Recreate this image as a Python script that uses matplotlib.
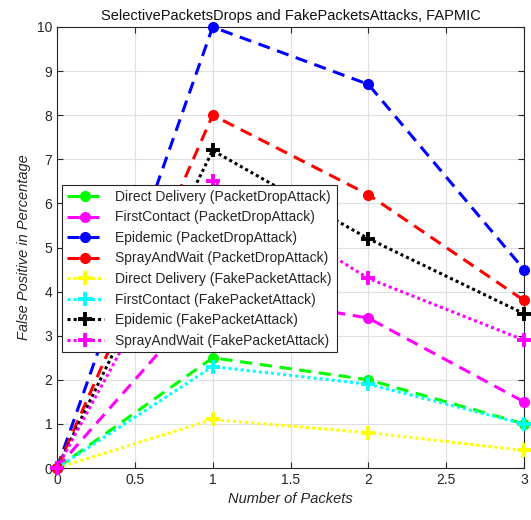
import matplotlib
matplotlib.use("Agg")
import matplotlib.pyplot as plt

plt.rcParams['font.family'] = ['Liberation Sans', 'DejaVu Sans']

packets = [0, 1, 2, 3]

dd_drop = [0, 2.5, 2.0, 1.0]
fc_drop = [0, 4.0, 3.4, 1.5]
ep_drop = [0, 10.0, 8.7, 4.5]
sw_drop = [0, 8.0, 6.2, 3.8]
dd_fake = [0, 1.1, 0.8, 0.4]
fc_fake = [0, 2.3, 1.9, 1.0]
ep_fake = [0, 7.2, 5.2, 3.5]
sw_fake = [0, 6.5, 4.3, 2.9]

labels = ["Direct Delivery (PacketDropAttack)", "FirstContact (PacketDropAttack)",
          "Epidemic (PacketDropAttack)", "SprayAndWait (PacketDropAttack)",
          "Direct Delivery (FakePacketAttack)", "FirstContact (FakePacketAttack)",
          "Epidemic (FakePacketAttack)", "SprayAndWait (FakePacketAttack)"]

fig = plt.figure(figsize=(5.31, 5.2), dpi=100)
ax = fig.add_axes([57 / 531, 52 / 520, 467 / 531, 441 / 520])

# packet drop attacks: dashed lines with filled circles
for y, c, lab in zip([dd_drop, fc_drop, ep_drop, sw_drop],
                     ["#00ff00", "#ff00ff", "#0000ff", "#ff0000"], labels[:4]):
    ax.plot(packets, y, linestyle=(0, (4, 2.5)), color=c, lw=2.2, marker='o',
            ms=7, mfc=c, mec=c, label=lab, clip_on=False, zorder=3)

# fake packet attacks: dotted lines with plus markers
for y, c, lab in zip([dd_fake, fc_fake, ep_fake, sw_fake],
                     ["#ffff00", "#00ffff", "#000000", "#ff00ff"], labels[4:]):
    ax.plot(packets, y, linestyle=(0, (1, 1)), color=c, lw=2.2, marker='+',
            ms=10, mew=2.8, label=lab, clip_on=False, zorder=3)

ax.set_xlim(0, 3)
ax.set_ylim(0, 10)
ax.set_xticks([0, 0.5, 1, 1.5, 2, 2.5, 3])
ax.set_xticklabels(["0", "0.5", "1", "1.5", "2", "2.5", "3"])
ax.set_yticks(range(0, 11))
ax.tick_params(direction='in', labelsize=10, colors='#262626', length=4, top=True, right=True)
ax.grid(True, color='#e0e0e0', lw=0.8)
ax.set_axisbelow(True)
for s in ax.spines.values():
    s.set_color('#262626')
    s.set_linewidth(0.8)

ax.set_xlabel("Number of Packets", fontsize=10.5, style='italic', color='#262626')
ax.set_ylabel("False Positive in Percentage", fontsize=10.5, style='italic', color='#262626')
ax.set_title("SelectivePacketsDrops and FakePacketsAttacks, FAPMIC", fontsize=10.5,
             color='#111111', pad=5)

leg = ax.legend(loc='lower left', bbox_to_anchor=(0.01, 0.262), fontsize=10,
                frameon=True, fancybox=False, edgecolor='#262626', framealpha=1,
                borderpad=0.35, labelspacing=0.47, handlelength=2.7, handletextpad=0.8,
                borderaxespad=0)
leg.get_frame().set_linewidth(0.8)
leg.set_zorder(5)
for t in leg.get_texts():
    t.set_color('#262626')

fig.savefig("out.png", dpi=100)
